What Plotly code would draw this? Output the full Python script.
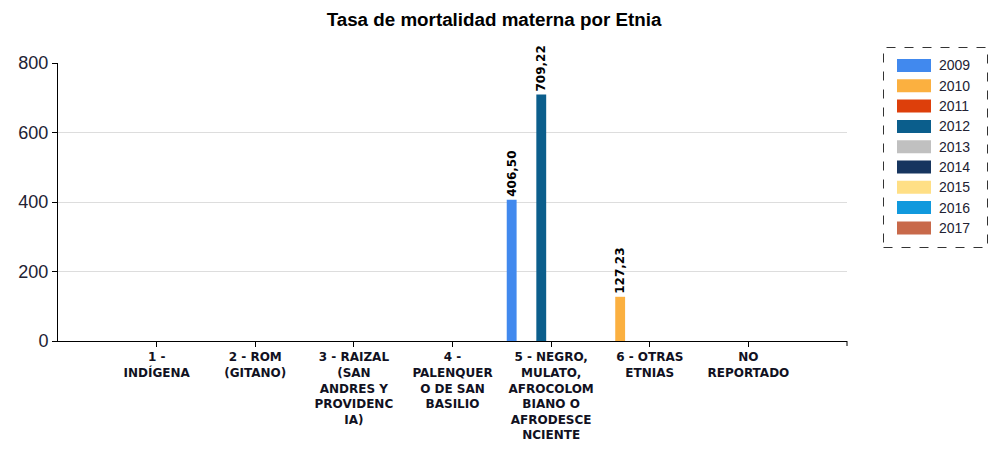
import plotly.graph_objects as go

# Ethnic groups (x categories) with their wrapped tick labels
categories = [
    "1 -<br>INDÍGENA",
    "2 - ROM<br>(GITANO)",
    "3 - RAIZAL<br>(SAN<br>ANDRES Y<br>PROVIDENC<br>IA)",
    "4 -<br>PALENQUER<br>O DE SAN<br>BASILIO",
    "5 - NEGRO,<br>MULATO,<br>AFROCOLOM<br>BIANO O<br>AFRODESCE<br>NCIENTE",
    "6 - OTRAS<br>ETNIAS",
    "NO<br>REPORTADO",
]

years = ["2009", "2010", "2011", "2012", "2013", "2014", "2015", "2016", "2017"]

# Maternal mortality rate per year and ethnic group (None = no data)
rate_2009 = [None, None, None, None, 406.50, None, None]
rate_2010 = [None, None, None, None, None, 127.23, None]
rate_2011 = [None] * 7
rate_2012 = [None, None, None, None, 709.22, None, None]
rate_2013 = [None] * 7
rate_2014 = [None] * 7
rate_2015 = [None] * 7
rate_2016 = [None] * 7
rate_2017 = [None] * 7

series = [rate_2009, rate_2010, rate_2011, rate_2012, rate_2013,
          rate_2014, rate_2015, rate_2016, rate_2017]

colors = ["#4189EE", "#FBB040", "#DD3F0B", "#0B5E8C", "#C0C0C0",
          "#17355F", "#FFDF85", "#1199DD", "#C8694A"]

fig = go.Figure()
for year, vals, col in zip(years, series, colors):
    fig.add_trace(go.Bar(
        x=categories, y=vals, name=year,
        marker=dict(color=col, line=dict(width=0)),
        texttemplate="%{y:.2f}",
        textposition="outside",
        textangle=-90,
        constraintext="none",
        textfont=dict(family="DejaVu Sans", size=12, color="#000000", weight="bold"),
        cliponaxis=False,
        showlegend=False,
    ))

W, H = 989, 450
ml, mr, mt, mb = 58, 142, 63, 109
pw, ph = W - ml - mr, H - mt - mb


def px_to_paper_x(px):
    return (px - ml) / pw


def px_to_paper_y(py):
    return 1 - (py - mt) / ph


# Legend box drawn as shapes + text
shapes = [dict(type="rect", xref="paper", yref="paper",
               x0=px_to_paper_x(883.5), x1=px_to_paper_x(987.5),
               y0=px_to_paper_y(247.5), y1=px_to_paper_y(47.5),
               line=dict(color="#333333", width=1, dash="dash"),
               fillcolor="rgba(0,0,0,0)")]
annotations = []
row0, step = 65.5, 20.3
for i, (year, col) in enumerate(zip(years, colors)):
    cy = row0 + i * step
    shapes.append(dict(type="rect", xref="paper", yref="paper",
                       x0=px_to_paper_x(897), x1=px_to_paper_x(931),
                       y0=px_to_paper_y(cy + 6.5), y1=px_to_paper_y(cy - 6.5),
                       line=dict(width=0), fillcolor=col))
    annotations.append(dict(xref="paper", yref="paper",
                            x=px_to_paper_x(937), y=px_to_paper_y(cy),
                            xanchor="left", yanchor="middle", showarrow=False,
                            text=year,
                            font=dict(family="Liberation Sans", size=14, color="#222233")))

# closing tick at the right end of the x axis
shapes.append(dict(type="line", xref="paper", yref="paper",
                   x0=1, x1=1, y0=0, y1=px_to_paper_y(H - mb + 5),
                   line=dict(color="#000000", width=1)))

fig.update_layout(
    width=W, height=H,
    margin=dict(l=ml, r=mr, t=mt, b=mb, pad=0, autoexpand=False),
    separators=",.",
    barmode="group",
    bargap=0.10,
    bargroupgap=0,
    plot_bgcolor="#ffffff",
    paper_bgcolor="#ffffff",
    title=dict(text="<b>Tasa de mortalidad materna por Etnia</b>",
               x=0.4995, xref="container", xanchor="center",
               y=1 - 19 / H, yref="container", yanchor="middle",
               font=dict(family="Liberation Sans", size=18.8, color="#000000")),
    xaxis=dict(
        type="category",
        range=[-1, 7],
        automargin=False,
        showline=True, linecolor="#000000", linewidth=1,
        ticks="outside", ticklen=5, tickcolor="#000000",
        showgrid=False,
        tickfont=dict(family="DejaVu Sans", size=12, color="#111122", weight="bold"),
    ),
    yaxis=dict(
        range=[0, 800],
        tickvals=[0, 200, 400, 600, 800],
        automargin=False,
        showline=True, linecolor="#000000", linewidth=1,
        ticks="outside", ticklen=5, tickcolor="#000000",
        showgrid=True, gridcolor="#dddddd", gridwidth=1,
        zeroline=False,
        tickfont=dict(family="Liberation Sans", size=18, color="#222233"),
    ),
    shapes=shapes,
    annotations=annotations,
)

fig.write_html("out.html")
